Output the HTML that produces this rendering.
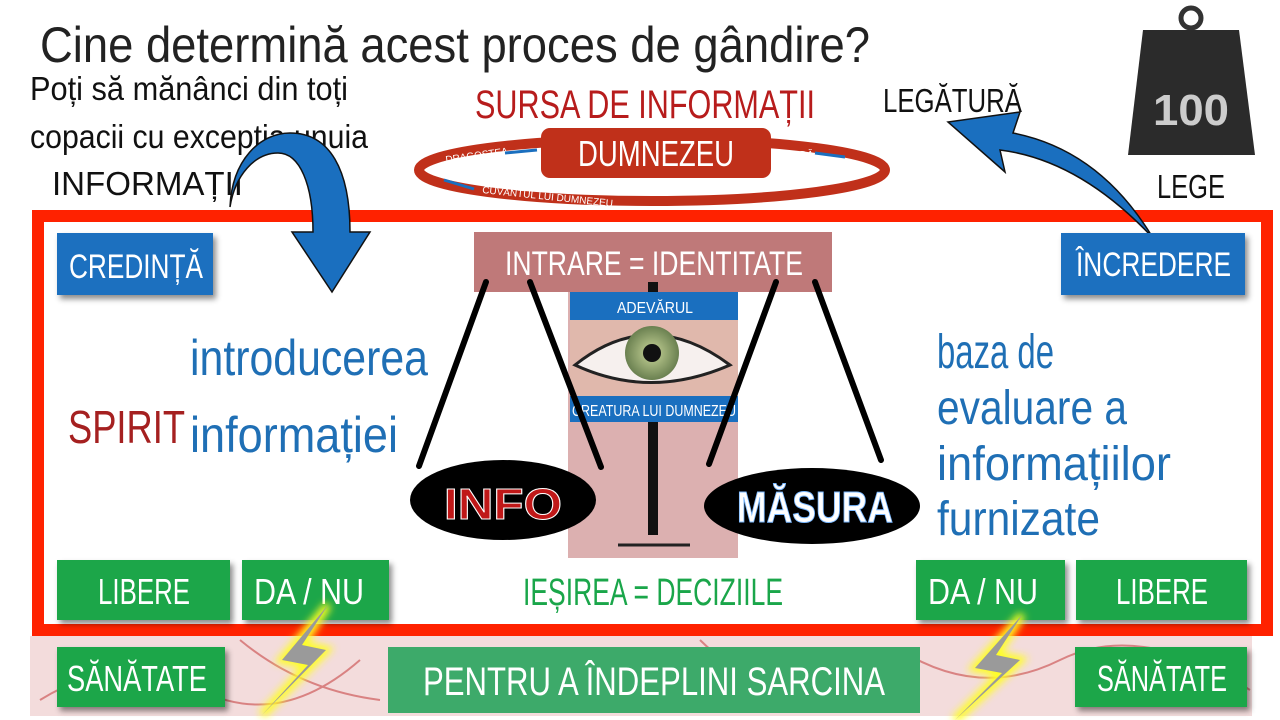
<!DOCTYPE html>
<html><head><meta charset="utf-8"><style>
html,body{margin:0;padding:0;background:#fff;width:1280px;height:720px;overflow:hidden}
svg text{font-family:"Liberation Sans","DejaVu Sans",sans-serif}
</style></head><body>
<svg width="1280" height="720" viewBox="0 0 1280 720" xmlns="http://www.w3.org/2000/svg">
<defs>
<filter id="sh" x="-10%" y="-10%" width="130%" height="140%"><feDropShadow dx="3" dy="4" stdDeviation="3" flood-opacity="0.45"/></filter>
<filter id="glow" x="-50%" y="-50%" width="200%" height="200%"><feGaussianBlur stdDeviation="4"/></filter>
<radialGradient id="iris" cx="50%" cy="50%" r="50%"><stop offset="0" stop-color="#2a3a20"/><stop offset="0.35" stop-color="#a8b880"/><stop offset="1" stop-color="#6a8050"/></radialGradient>
</defs>
<rect x="30" y="636" width="1222" height="80" fill="#f3dcdc"/>
<g stroke="#c84848" stroke-width="2" fill="none" opacity="0.6">
<path d="M40 700 Q120 650 200 690 T360 660"/><path d="M240 640 Q300 690 380 700"/><path d="M900 650 Q980 700 1060 660 T1250 690"/><path d="M700 640 Q760 700 880 705"/></g>
<rect x="38" y="216" width="1229" height="414" fill="#fff" stroke="#ff2200" stroke-width="12"/>
<text x="40" y="62" font-size="50" fill="#222" textLength="830" lengthAdjust="spacingAndGlyphs">Cine determină acest proces de gândire?</text>
<text x="30" y="100" font-size="33" fill="#111" textLength="318" lengthAdjust="spacingAndGlyphs">Poți să mănânci din toți</text>
<text x="30" y="148" font-size="33" fill="#111" textLength="338" lengthAdjust="spacingAndGlyphs">copacii cu excepția unuia</text>
<text x="52" y="195" font-size="33" fill="#111" textLength="191" lengthAdjust="spacingAndGlyphs">INFORMAȚII</text>
<text x="475" y="118" font-size="40" fill="#b71c1c" textLength="340" lengthAdjust="spacingAndGlyphs">SURSA DE INFORMAȚII</text>
<ellipse cx="652" cy="170" rx="233" ry="31" fill="none" stroke="#c0301a" stroke-width="10"/>
<rect x="541" y="128" width="230" height="50" rx="9" fill="#c0301a"/>
<text x="578" y="166" font-size="36" fill="#fff" textLength="156" lengthAdjust="spacingAndGlyphs">DUMNEZEU</text>
<text x="446" y="163" font-size="10" fill="#fff" transform="rotate(-8 446 163)">DRAGOSTEA</text>
<text x="778" y="158" font-size="10" fill="#fff">ROADĂ</text>
<text x="482" y="193" font-size="10" fill="#fff" transform="rotate(6 482 193)">CUVÂNTUL LUI DUMNEZEU</text>
<path d="M537 150 L505 153" stroke="#1a6fbf" stroke-width="3"/><path d="M845 157 L815 153" stroke="#1a6fbf" stroke-width="3"/><path d="M444 180 L474 189" stroke="#1a6fbf" stroke-width="3"/>
<text x="883" y="112" font-size="33" fill="#111" textLength="139" lengthAdjust="spacingAndGlyphs">LEGĂTURĂ</text>
<circle cx="1191" cy="18" r="10" fill="none" stroke="#333" stroke-width="5"/>
<path d="M1143 30 L1239 30 L1255 155 L1128 155 Z" fill="#2b2b2b"/>
<text x="1153" y="125" font-size="44" font-weight="bold" fill="#ccc" textLength="76" lengthAdjust="spacingAndGlyphs">100</text>
<text x="1157" y="198" font-size="33" fill="#111" textLength="68" lengthAdjust="spacingAndGlyphs">LEGE</text>
<path d="M1153 238 Q1080 160 1000 150 L1005 172 L948 122 L1020 112 L1013 133 Q1100 150 1153 238 Z" fill="#1a6fbf" stroke="#111" stroke-width="1.5"/>
<path d="M230 207 C232 160 260 133 290 133 C330 133 350 170 350 232 L370 232 L332 292 L292 232 L313 232 C313 185 300 153 278 153 C255 153 235 175 230 207 Z" fill="#1a6fbf" stroke="#111" stroke-width="1.5"/>
<rect x="57" y="233" width="156" height="62" fill="#1a6fbf" filter="url(#sh)"/>
<text x="69" y="278" font-size="34" fill="#fff" textLength="134" lengthAdjust="spacingAndGlyphs">CREDINȚĂ</text>
<rect x="1061" y="233" width="184" height="62" fill="#1a6fbf" filter="url(#sh)"/>
<text x="1076" y="276" font-size="34" fill="#fff" textLength="155" lengthAdjust="spacingAndGlyphs">ÎNCREDERE</text>
<rect x="568" y="292" width="170" height="266" fill="#dcb0b0"/>
<rect x="474" y="232" width="358" height="60" fill="#b86a6a" opacity="0.9"/>
<text x="505" y="275" font-size="34" fill="#fff" textLength="298" lengthAdjust="spacingAndGlyphs">INTRARE = IDENTITATE</text>
<rect x="570" y="292" width="168" height="28" fill="#1a6fbf"/>
<text x="617" y="313" font-size="16" fill="#fff" textLength="76" lengthAdjust="spacingAndGlyphs">ADEVĂRUL</text>
<rect x="570" y="320" width="168" height="76" fill="#e0b8ac"/>
<path d="M575 365 Q650 305 730 365 Q650 400 575 365 Z" fill="#f6f0ee" stroke="#222" stroke-width="3"/>
<circle cx="652" cy="353" r="27" fill="url(#iris)"/><circle cx="652" cy="353" r="9" fill="#111"/>
<rect x="570" y="396" width="168" height="26" fill="#1a6fbf"/>
<text x="572" y="416" font-size="16" fill="#fff" textLength="164" lengthAdjust="spacingAndGlyphs">CREATURA LUI DUMNEZEU</text>
<rect x="648" y="422" width="10" height="113" fill="#111"/><rect x="648" y="282" width="10" height="10" fill="#111"/>
<path d="M618 545 L690 545" stroke="#222" stroke-width="3"/>
<g stroke="#000" stroke-width="6" stroke-linecap="round">
<line x1="486" y1="282" x2="419" y2="466"/><line x1="530" y1="282" x2="601" y2="467"/>
<line x1="776" y1="282" x2="709" y2="464"/><line x1="815" y1="282" x2="881" y2="460"/></g>
<ellipse cx="503" cy="500" rx="93" ry="40" fill="#000"/>
<text x="444" y="519" font-size="44" font-weight="bold" fill="#c01818" stroke="#fff" stroke-width="1" textLength="118" lengthAdjust="spacingAndGlyphs">INFO</text>
<ellipse cx="812" cy="506" rx="108" ry="38" fill="#000"/>
<text x="737" y="522" font-size="44" font-weight="bold" fill="#fff" stroke="#7ab8ff" stroke-width="1" textLength="156" lengthAdjust="spacingAndGlyphs">MĂSURA</text>
<text x="190" y="375" font-size="50" fill="#1f6fb5" textLength="238" lengthAdjust="spacingAndGlyphs">introducerea</text>
<text x="190" y="452" font-size="50" fill="#1f6fb5" textLength="208" lengthAdjust="spacingAndGlyphs">informației</text>
<text x="68" y="443" font-size="46" fill="#a52020" textLength="117" lengthAdjust="spacingAndGlyphs">SPIRIT</text>
<text x="937" y="368" font-size="48" fill="#1f6fb5" textLength="117" lengthAdjust="spacingAndGlyphs">baza de</text>
<text x="937" y="424" font-size="48" fill="#1f6fb5" textLength="190" lengthAdjust="spacingAndGlyphs">evaluare a</text>
<text x="937" y="480" font-size="48" fill="#1f6fb5" textLength="234" lengthAdjust="spacingAndGlyphs">informațiilor</text>
<text x="937" y="535" font-size="48" fill="#1f6fb5" textLength="163" lengthAdjust="spacingAndGlyphs">furnizate</text>
<g fill="#1aa64a" filter="url(#sh)">
<rect x="57" y="560" width="173" height="60"/><rect x="242" y="560" width="147" height="60"/>
<rect x="916" y="560" width="149" height="60"/><rect x="1076" y="560" width="171" height="60"/>
<rect x="57" y="647" width="168" height="60"/><rect x="1075" y="647" width="172" height="60"/></g>
<rect x="388" y="647" width="532" height="66" fill="#3daa6a"/>
<g fill="#fff" font-size="36">
<text x="98" y="604" textLength="92" lengthAdjust="spacingAndGlyphs">LIBERE</text>
<text x="254" y="604" textLength="110" lengthAdjust="spacingAndGlyphs">DA / NU</text>
<text x="928" y="604" textLength="110" lengthAdjust="spacingAndGlyphs">DA / NU</text>
<text x="1116" y="604" textLength="92" lengthAdjust="spacingAndGlyphs">LIBERE</text>
<text x="67" y="691" textLength="140" lengthAdjust="spacingAndGlyphs">SĂNĂTATE</text>
<text x="1097" y="691" textLength="130" lengthAdjust="spacingAndGlyphs">SĂNĂTATE</text>
<text x="423" y="695" font-size="40" textLength="462" lengthAdjust="spacingAndGlyphs">PENTRU A ÎNDEPLINI SARCINA</text>
</g>
<text x="523" y="605" font-size="38" fill="#1aa64a" textLength="260" lengthAdjust="spacingAndGlyphs">IEȘIREA = DECIZIILE</text>
<g>
<path d="M328 605 L282 660 L308 665 L262 715 L326 650 L302 645 Z" fill="#ffff20" stroke="#ffff20" stroke-width="8" filter="url(#glow)"/>
<path d="M328 605 L282 660 L308 665 L262 715 L326 650 L302 645 Z" fill="#9a9a9a"/>
<path d="M1022 615 L975 668 L1002 673 L955 720 L1020 660 L996 655 Z" fill="#ffff20" stroke="#ffff20" stroke-width="8" filter="url(#glow)"/>
<path d="M1022 615 L975 668 L1002 673 L955 720 L1020 660 L996 655 Z" fill="#9a9a9a"/>
</g>
</svg>
</body></html>
